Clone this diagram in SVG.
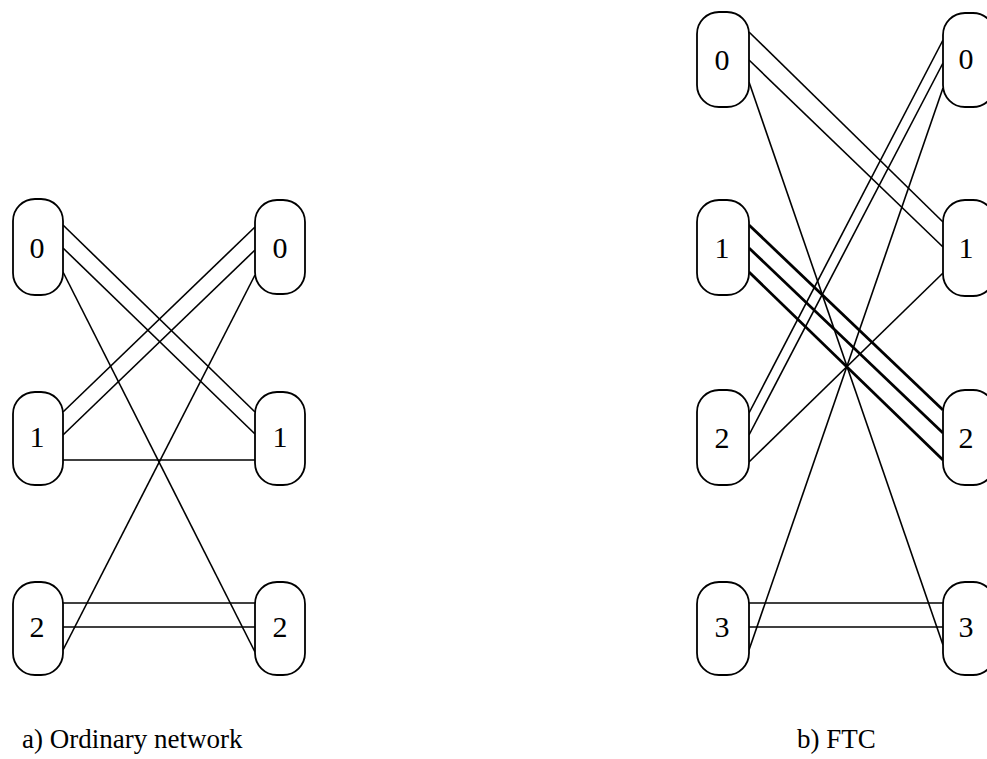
<svg xmlns="http://www.w3.org/2000/svg" width="987" height="759" viewBox="0 0 987 759">
  <style>
    .box { fill: #fff; stroke: #000; stroke-width: 1.8; }
    .lbl { font-family: "Liberation Serif", "DejaVu Serif", serif; font-size: 30px; fill: #000; text-anchor: middle; }
    .cap { font-family: "Liberation Serif", "DejaVu Serif", serif; font-size: 27px; fill: #000; }
    .ln { stroke: #000; stroke-width: 1.6; fill: none; }
    .thick { stroke: #000; stroke-width: 2.8; fill: none; }
  </style>
  <rect width="987" height="759" fill="#fff"/>

  <!-- connectors -->
  <g id="connectors">
    <!-- a) ordinary network -->
    <line class="ln" x1="63" y1="225" x2="255" y2="412"/>
    <line class="ln" x1="63" y1="248" x2="255" y2="434"/>
    <line class="ln" x1="63" y1="272" x2="255" y2="652"/>
    <line class="ln" x1="255" y1="227" x2="63" y2="412"/>
    <line class="ln" x1="255" y1="250" x2="63" y2="435"/>
    <line class="ln" x1="255" y1="275" x2="63" y2="650"/>
    <line class="ln" x1="63" y1="460" x2="255" y2="460"/>
    <line class="ln" x1="63" y1="603" x2="255" y2="603"/>
    <line class="ln" x1="63" y1="627" x2="255" y2="627"/>
    <!-- b) FTC -->
    <line class="ln" x1="749" y1="32" x2="943" y2="222"/>
    <line class="ln" x1="749" y1="60" x2="943" y2="247"/>
    <line class="ln" x1="749" y1="82" x2="943" y2="645"/>
    <line class="ln" x1="943" y1="40" x2="749" y2="413"/>
    <line class="ln" x1="943" y1="63" x2="749" y2="435"/>
    <line class="ln" x1="943" y1="88" x2="749" y2="650"/>
    <line class="thick" x1="749" y1="225" x2="943" y2="410"/>
    <line class="thick" x1="749" y1="248" x2="943" y2="433"/>
    <line class="thick" x1="749" y1="272" x2="943" y2="460"/>
    <line class="ln" x1="943" y1="273" x2="749" y2="462"/>
    <line class="ln" x1="749" y1="603" x2="943" y2="603"/>
    <line class="ln" x1="749" y1="627" x2="943" y2="627"/>
  </g>

  <!-- a) ordinary network nodes -->
  <g id="a-left-0"><rect class="box" x="13" y="199" width="50" height="96" rx="22"/><text class="lbl" x="37" y="258">0</text></g>
  <g id="a-left-1"><rect class="box" x="13" y="392" width="50" height="93" rx="22"/><text class="lbl" x="37" y="447">1</text></g>
  <g id="a-left-2"><rect class="box" x="13" y="582" width="50" height="93" rx="22"/><text class="lbl" x="37" y="637">2</text></g>
  <g id="a-right-0"><rect class="box" x="255" y="200" width="50" height="94" rx="22"/><text class="lbl" x="280" y="258">0</text></g>
  <g id="a-right-1"><rect class="box" x="255" y="392" width="50" height="93" rx="22"/><text class="lbl" x="280" y="447">1</text></g>
  <g id="a-right-2"><rect class="box" x="255" y="582" width="50" height="93" rx="22"/><text class="lbl" x="280" y="637">2</text></g>

  <!-- b) FTC nodes -->
  <g id="b-left-0"><rect class="box" x="697" y="12" width="52" height="95" rx="22"/><text class="lbl" x="722" y="70">0</text></g>
  <g id="b-left-1"><rect class="box" x="697" y="200" width="52" height="95" rx="22"/><text class="lbl" x="722" y="258">1</text></g>
  <g id="b-left-2"><rect class="box" x="697" y="390" width="52" height="95" rx="22"/><text class="lbl" x="722" y="448">2</text></g>
  <g id="b-left-3"><rect class="box" x="697" y="582" width="52" height="93" rx="22"/><text class="lbl" x="722" y="637">3</text></g>
  <g id="b-right-0"><rect class="box" x="943" y="13" width="52" height="94" rx="22"/><text class="lbl" x="966" y="69">0</text></g>
  <g id="b-right-1"><rect class="box" x="943" y="200" width="52" height="96" rx="22"/><text class="lbl" x="966" y="258">1</text></g>
  <g id="b-right-2"><rect class="box" x="943" y="390" width="52" height="95" rx="22"/><text class="lbl" x="966" y="448">2</text></g>
  <g id="b-right-3"><rect class="box" x="943" y="582" width="52" height="93" rx="22"/><text class="lbl" x="966" y="637">3</text></g>

  <!-- captions -->
  <text class="cap" x="22" y="748">a) Ordinary network</text>
  <text class="cap" x="797" y="748">b) FTC</text>
</svg>
